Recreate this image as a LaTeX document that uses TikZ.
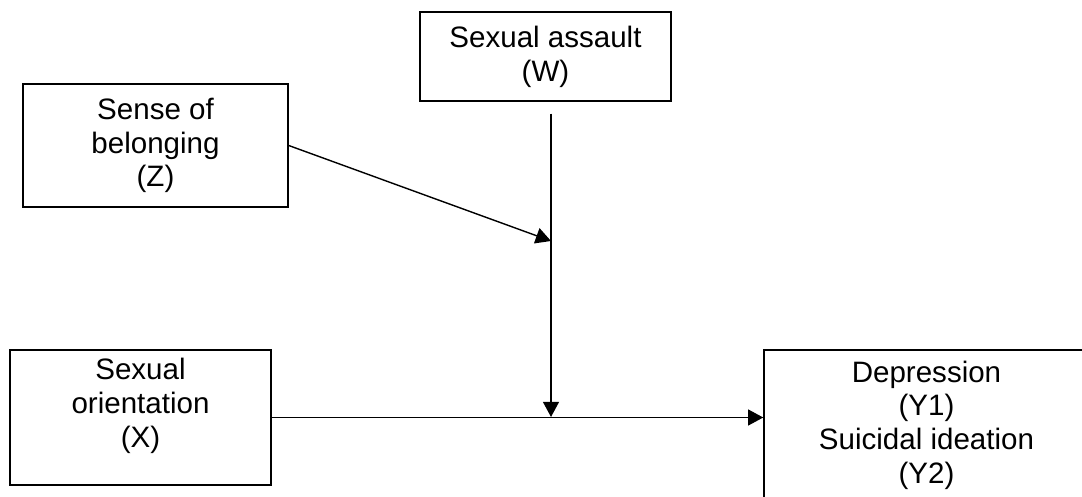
\documentclass[tikz,border=0pt]{standalone}
\usepackage{fontspec}
\setmainfont{Liberation Sans}
\usetikzlibrary{arrows.meta,positioning,calc}

\begin{document}
\begin{tikzpicture}[x=0.025cm,y=-0.025cm,
    bx/.style={draw,line width=1pt,align=center,inner sep=0pt,
      font=\fontsize{21}{24}\selectfont},
    ar/.style={-{Triangle[length=0.38cm,width=0.4cm]},line width=1pt},
  ]
  \useasboundingbox (0,0) rectangle (1082,497);
  \clip (0,0) rectangle (1082,497);

    \node[bx,minimum width=6.275cm,minimum height=2.225cm] (w) at (545.5,56.5)
      {Sexual assault\\(W)};
    \node[bx,minimum width=6.625cm,minimum height=3.075cm] (z) at (155.5,145.5)
      {Sense of\\belonging\\(Z)};
    \node[bx,minimum width=6.525cm,text height=2.425cm,text depth=0.95cm] (x)
      at (140.5,417.5) {Sexual\\orientation\\(X)};
    \node[bx,minimum width=8.125cm,minimum height=3.75cm] (y) at (926.5,425)
      {Depression\\(Y1)\\Suicidal ideation\\(Y2)};

    \coordinate (m) at (551,417);
    \coordinate (s) at (551,241);

    \draw[ar] ([yshift=-0.3cm]w.south -| m) -- (m);
    \draw[ar] (z.east) -- (s);
    \draw[ar] (x.east) -- (x.east -| y.west);
\end{tikzpicture}
\end{document}
